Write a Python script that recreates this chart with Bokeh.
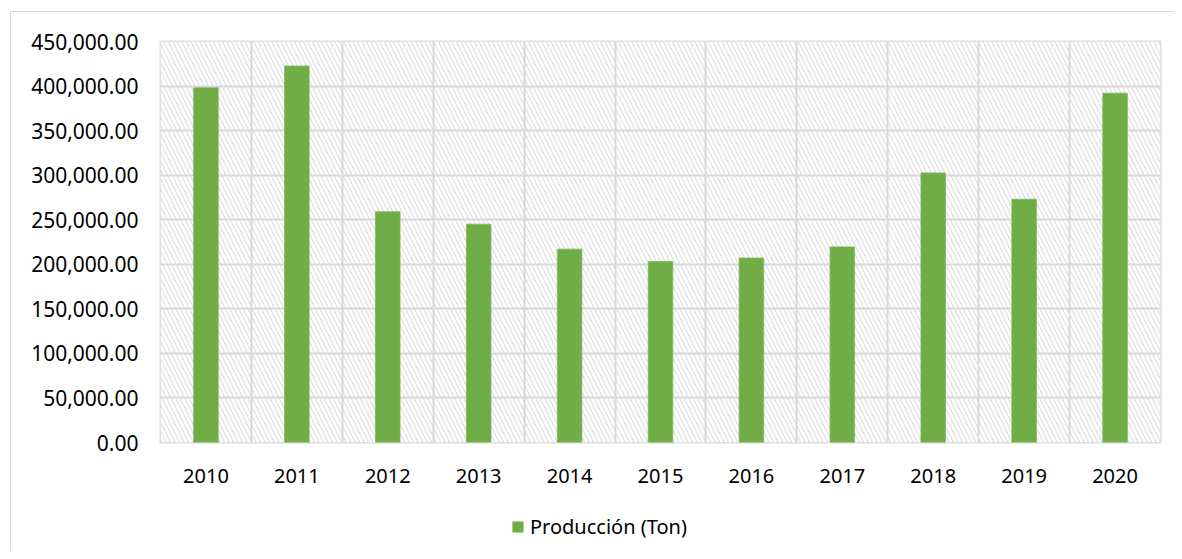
from bokeh.plotting import figure
from bokeh.layouts import column
from bokeh.models import (Range1d, FixedTicker, NumeralTickFormatter, BoxAnnotation,
                          Legend, LegendItem, ColumnDataSource)
from bokeh.embed import file_html
from bokeh.resources import INLINE

years = ["2010", "2011", "2012", "2013", "2014", "2015", "2016", "2017", "2018", "2019", "2020"]
produccion = [398000, 422500, 259000, 245000, 217000, 203000, 207000, 219500, 302500, 273000, 392000]
y_ticks = [0, 50000, 100000, 150000, 200000, 250000, 300000, 350000, 400000, 450000]
series_name = "Producción (Ton)"

idx = list(range(len(years)))
source = ColumnDataSource(dict(x=idx, year=years, value=produccion))

FONT = "Noto Sans"
GRID = "#D9D9D9"
BAR = "#70AD47"
W = 1163

p = figure(width=W, height=484, output_backend="svg", toolbar_location=None,
           x_range=Range1d(-0.5, len(years) - 0.5), y_range=Range1d(0, 450000),
           min_border_left=149, min_border_right=14, min_border_top=29, min_border_bottom=54)

# hatched plot background
bg = BoxAnnotation(fill_color="white", fill_alpha=1.0, line_color=None,
                   hatch_pattern="left_diagonal_line", hatch_color="#DEDEDE",
                   hatch_scale=9, hatch_weight=1.2, level="image")
p.add_layout(bg)

r = p.vbar(x="x", top="value", width=0.27, source=source,
           fill_color=BAR, line_color="#7DB85A", line_width=0.8)

p.outline_line_color = GRID
p.outline_line_width = 2

# axes
p.yaxis.ticker = FixedTicker(ticks=y_ticks)
p.yaxis.formatter = NumeralTickFormatter(format="0,0.00")
p.xaxis.ticker = FixedTicker(ticks=idx)
p.xaxis.major_label_overrides = {i: y for i, y in zip(idx, years)}
for ax in (p.xaxis, p.yaxis):
    ax.axis_line_color = None
    ax.major_tick_line_color = None
    ax.minor_tick_line_color = None
    ax.major_label_text_font = FONT
    ax.major_label_text_font_size = "20px"
    ax.major_label_text_color = "#000000"
p.yaxis.major_label_text_font_size = "21px"
p.yaxis.major_label_standoff = 16
p.xaxis.major_label_standoff = 20

# grids
p.ygrid.ticker = FixedTicker(ticks=y_ticks)
p.ygrid.grid_line_color = GRID
p.ygrid.grid_line_width = 2
p.xgrid.ticker = FixedTicker(ticks=[i - 0.5 for i in range(len(years) + 1)])
p.xgrid.grid_line_color = GRID
p.xgrid.grid_line_width = 2

# legend strip below the chart (its swatch renderer is hidden; only the legend shows)
lg = figure(width=W, height=55, output_backend="svg", toolbar_location=None,
            x_axis_type=None, y_axis_type=None, min_border=0,
            x_range=Range1d(-0.5, len(years) - 0.5), y_range=Range1d(0, 450000))
lg.outline_line_color = None
lg.xgrid.visible = False
lg.ygrid.visible = False
swatch = lg.vbar(x="x", top="value", width=0.27, source=source,
                 fill_color=BAR, line_color="#7DB85A", line_width=0.8, visible=False)
legend = Legend(items=[LegendItem(label=series_name, renderers=[swatch])],
                location=(351, 11), orientation="horizontal", click_policy="none",
                padding=0, margin=0, border_line_color=None, background_fill_alpha=0,
                glyph_width=13, glyph_height=13, label_standoff=6,
                label_text_font=FONT, label_text_font_size="20px", label_text_color="#000000")
lg.add_layout(legend, "center")

layout = column(p, lg, spacing=0)
layout.styles = {"margin-left": "10px", "margin-top": "11px",
                 "border-left": "1px solid #D9D9D9", "border-top": "1px solid #D9D9D9"}

open("out.html", "w").write(file_html(layout, INLINE))
